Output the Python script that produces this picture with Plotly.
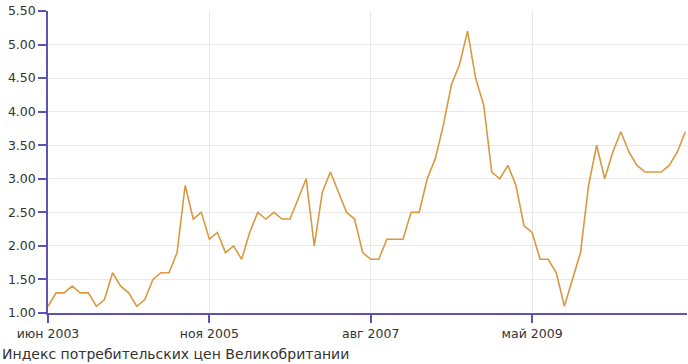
import plotly.graph_objects as go

cpi_values = [
    1.1, 1.3, 1.3, 1.4, 1.3, 1.3, 1.1, 1.2, 1.6, 1.4,
    1.3, 1.1, 1.2, 1.5, 1.6, 1.6, 1.9, 2.9, 2.4, 2.5,
    2.1, 2.2, 1.9, 2.0, 1.8, 2.2, 2.5, 2.4, 2.5, 2.4,
    2.4, 2.7, 3.0, 2.0, 2.8, 3.1, 2.8, 2.5, 2.4, 1.9,
    1.8, 1.8, 2.1, 2.1, 2.1, 2.5, 2.5, 3.0, 3.3, 3.8,
    4.4, 4.7, 5.2, 4.5, 4.1, 3.1, 3.0, 3.2, 2.9, 2.3,
    2.2, 1.8, 1.8, 1.6, 1.1, 1.5, 1.9, 2.9, 3.5, 3.0,
    3.4, 3.7, 3.4, 3.2, 3.1, 3.1, 3.1, 3.2, 3.4, 3.7,
]
obs_index = list(range(len(cpi_values)))

tick_positions = [0, 20, 40, 60]
tick_labels = ["июн 2003", "ноя 2005", "авг 2007", "май 2009"]
y_ticks = [1.0, 1.5, 2.0, 2.5, 3.0, 3.5, 4.0, 4.5, 5.0, 5.5]

title_text = "Индекс потребительских цен Великобритании"

axis_color = "#5f52b6"
grid_color = "#e8e8e8"
line_color = "#d9993f"
text_color = "#333333"
font_family = "DejaVu Sans, Verdana, sans-serif"

fig = go.Figure(
    go.Scatter(
        x=obs_index,
        y=cpi_values,
        mode="lines",
        line=dict(color=line_color, width=1.6),
        hoverinfo="y",
    )
)

fig.update_layout(
    width=688,
    height=364,
    margin=dict(l=48, r=1, t=11, b=51),
    paper_bgcolor="white",
    plot_bgcolor="white",
    showlegend=False,
    font=dict(family=font_family, size=12.5, color=text_color),
    title=dict(
        text=title_text,
        xref="container",
        yref="container",
        x=0,
        xanchor="left",
        y=10 / 364,
        yanchor="middle",
        pad=dict(l=2, t=0, b=0, r=0),
        font=dict(family=font_family, size=14, color=text_color),
    ),
)

fig.update_xaxes(
    range=[0, 79.2],
    tickmode="array",
    tickvals=tick_positions,
    ticktext=tick_labels,
    ticks="outside",
    ticklen=8,
    tickcolor=axis_color,
    tickwidth=1.5,
    showline=True,
    linecolor=axis_color,
    linewidth=1.5,
    showgrid=True,
    gridcolor=grid_color,
    gridwidth=1,
    zeroline=False,
    tickfont=dict(size=12.5, color=text_color),
)

fig.update_yaxes(
    range=[1.0, 5.5],
    tickmode="array",
    tickvals=y_ticks,
    ticktext=[f"{v:.2f}" for v in y_ticks],
    ticks="outside",
    ticklen=8,
    tickcolor=axis_color,
    tickwidth=1.5,
    showline=True,
    linecolor=axis_color,
    linewidth=1.5,
    showgrid=True,
    gridcolor=grid_color,
    gridwidth=1,
    zeroline=False,
    tickfont=dict(size=12.5, color=text_color),
)

fig.write_html(
    "out.html",
    config={"displayModeBar": False},
    post_script="document.body.style.margin='0';document.body.style.overflow='hidden';",
)
